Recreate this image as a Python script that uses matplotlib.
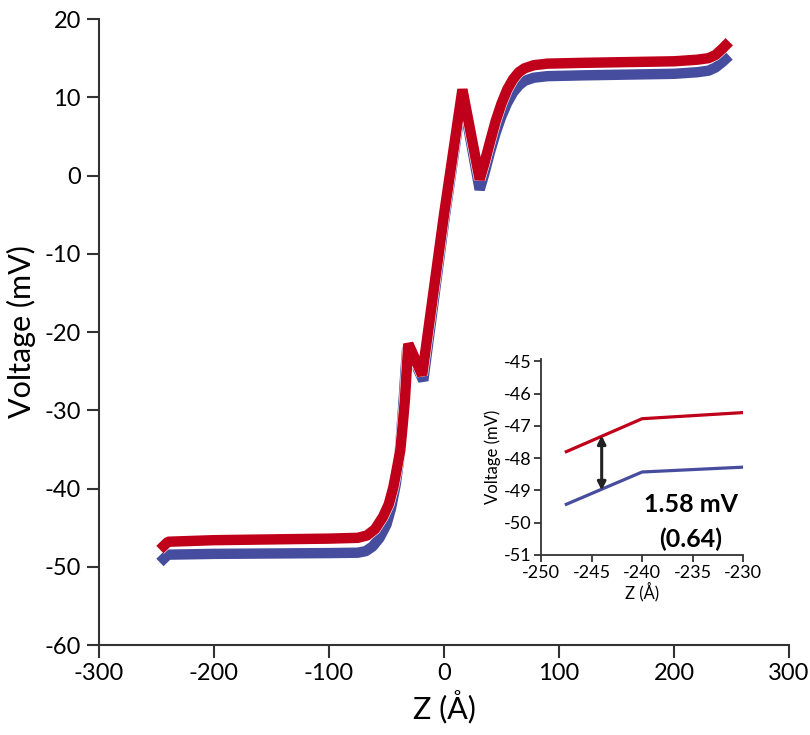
import matplotlib.pyplot as plt
import matplotlib.patheffects as pe

plt.rcParams['font.family'] = ['Lato', 'DejaVu Sans']
plt.rcParams['axes.unicode_minus'] = False

# main profile, Z in Angstrom, voltage in mV
z_red = [-247, -240, -200, -150, -100, -75, -67, -60, -53, -48, -44, -41, -38,
         -36, -34, -32.5, -31, -25, -19, 0, 16, 31, 35, 40, 45, 50, 55, 60, 65,
         70, 78, 90, 120, 160, 200, 220, 230, 236, 242, 248]
v_red = [-47.8, -46.8, -46.6, -46.5, -46.4, -46.3, -46.0, -45.2, -43.6, -42.0,
         -39.8, -37.5, -35.1, -32.0, -28.7, -25.0, -21.5, -23.5, -25.5, -5.0,
         11.0, -0.5, 1.5, 4.3, 7.0, 9.2, 11.0, 12.3, 13.2, 13.7, 14.1, 14.3,
         14.4, 14.5, 14.6, 14.8, 15.0, 15.4, 16.2, 17.1]

z_blue = [-247, -240, -200, -150, -100, -75, -68, -62, -56, -50, -46, -42,
          -39, -37, -35, -33.5, -32, -25, -18, 0, 16, 31, 35, 40, 45, 50, 55,
          60, 65, 70, 78, 90, 120, 160, 200, 220, 230, 236, 242, 248]
v_blue = [-49.45, -48.45, -48.35, -48.3, -48.25, -48.2, -48.0, -47.4, -46.3,
          -44.6, -42.5, -39.5, -36.3, -32.5, -28.5, -25.0, -22.0, -24.0, -26.2,
          -6.0, 10.3, -1.8, 0.2, 3.0, 5.5, 7.6, 9.3, 10.6, 11.5, 12.1, 12.5,
          12.7, 12.8, 12.9, 13.0, 13.2, 13.4, 13.8, 14.5, 15.3]

# inset (zoom on left end)
zi = [-247.5, -240, -230]
vi_red = [-47.8, -46.78, -46.59]
vi_blue = [-49.43, -48.43, -48.28]

red = '#C0001A'
blue = '#474D9E'
dark = '#333333'

fig = plt.figure(figsize=(8.1, 7.35), dpi=100)
ax = fig.add_axes([0.1222, 0.1224, 0.8519, 0.8517])

ax.plot(z_blue, v_blue, color=blue, lw=7.5, solid_joinstyle='bevel',
        solid_capstyle='butt')
ax.plot(z_red, v_red, color=red, lw=7.5, solid_joinstyle='bevel',
        solid_capstyle='butt',
        path_effects=[pe.Stroke(linewidth=8.3, foreground='white'), pe.Normal()])

ax.set_xlim(-300, 300)
ax.set_ylim(-60, 20)
ax.set_xticks(range(-300, 301, 100))
ax.set_yticks(range(-60, 21, 10))
for s in ['top', 'right']:
    ax.spines[s].set_visible(False)
for s in ['left', 'bottom']:
    ax.spines[s].set_color(dark)
    ax.spines[s].set_linewidth(1.5)
ax.tick_params(direction='out', length=9, width=1.5, color=dark, labelsize=17,
               labelcolor='black', pad=4)
ax.set_xlabel('Z (Å)', fontsize=22, labelpad=4)
ax.set_ylabel('Voltage (mV)', fontsize=22, labelpad=6)

# inset
axi = fig.add_axes([0.668, 0.2449, 0.2494, 0.2667])
axi.plot(zi, vi_red, color=red, lw=2.3)
axi.plot(zi, vi_blue, color=blue, lw=2.3)
axi.set_xlim(-250, -230)
axi.set_ylim(-51, -44.93)
axi.set_xticks(range(-250, -229, 5))
axi.set_yticks(range(-51, -44))
for s in ['top', 'right']:
    axi.spines[s].set_visible(False)
for s in ['left', 'bottom']:
    axi.spines[s].set_color(dark)
    axi.spines[s].set_linewidth(1.3)
axi.tick_params(direction='out', length=5, width=1.3, color=dark, labelsize=13,
                pad=2)
axi.set_xlabel('Z (Å)', fontsize=12, labelpad=1)
axi.set_ylabel('Voltage (mV)', fontsize=12, labelpad=2)

axi.annotate('', xy=(-244, -47.3), xytext=(-244, -49.0),
             arrowprops=dict(arrowstyle='<|-|>', color='#222222', lw=2.2,
                             mutation_scale=12, shrinkA=0, shrinkB=0))
axi.text(-235.2, -49.45, '1.58 mV', fontsize=18, fontweight='bold',
         ha='center', va='center')
axi.text(-235.2, -50.5, '(0.64)', fontsize=18, fontweight='bold',
         ha='center', va='center')

fig.savefig('out.png', dpi=100)
